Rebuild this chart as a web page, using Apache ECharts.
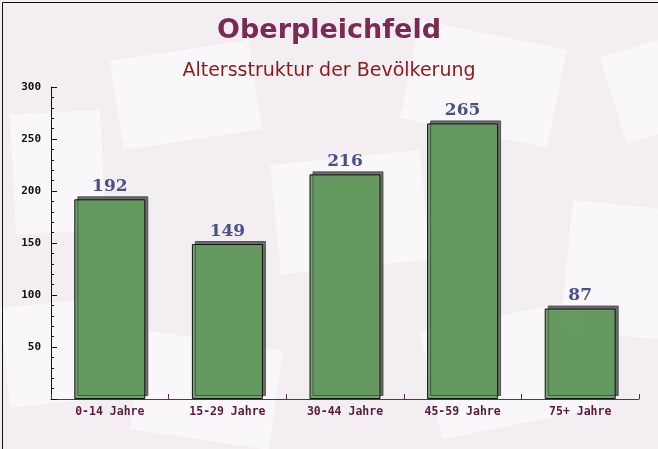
<!DOCTYPE html>
<html><head><meta charset="utf-8">
<script src="https://cdn.jsdelivr.net/npm/echarts@6/dist/echarts.min.js"></script>
<style>html,body{margin:0;padding:0;}#c{width:658px;height:449px;}</style>
</head><body><div id="c"></div>
<script>
const categories = ['0-14 Jahre','15-29 Jahre','30-44 Jahre','45-59 Jahre','75+ Jahre'];
const values = [192,149,216,265,87];
const yTicks = [0,50,100,150,200,250,300];

const chart = echarts.init(document.getElementById('c'), null, {renderer:'canvas'});
const env = (x,y,w,h,r)=>({type:'rect',left:x,top:y,shape:{width:w,height:h},rotation:r,style:{fill:'rgba(255,255,255,0.55)'},z:-10,silent:true});
chart.setOption({
  backgroundColor:'#f2eef1',
  animation:false,
  graphic:[
    env(110,40,140,90,0.15), env(400,20,150,100,-0.2), env(270,150,150,110,0.1),
    env(10,110,90,120,0.05), env(560,200,100,130,-0.1), env(420,300,160,110,0.2),
    env(130,330,140,100,-0.15), env(0,300,80,100,0.1), env(600,40,60,90,0.3),
    {type:'rect',left:0,top:0,shape:{width:657,height:448},style:{fill:'none',stroke:'#111',lineWidth:1},z:100,silent:true}
  ],
  title:[
    {text:'Oberpleichfeld',left:'center',top:12,textStyle:{fontFamily:'DejaVu Sans',fontWeight:'bold',fontSize:27,color:'#7a2a55'}},
    {text:'Altersstruktur der Bevölkerung',left:'center',top:57,textStyle:{fontFamily:'DejaVu Sans',fontWeight:'normal',fontSize:19,color:'#8b1a1a'}}
  ],
  grid:{left:51,right:19,top:87,bottom:50},
  xAxis:{
    type:'category',data:categories,
    axisLine:{lineStyle:{color:'#6b2a48',width:1}},
    axisTick:{show:true,inside:true,length:5,alignWithLabel:false,lineStyle:{color:'#6b2a48'}},
    axisLabel:{fontFamily:'DejaVu Sans Mono',fontWeight:'bold',fontSize:11.5,color:'#5a1a3a',margin:7}
  },
  yAxis:{
    type:'value',min:yTicks[0],max:yTicks[yTicks.length-1],interval:50,
    axisLine:{show:true,lineStyle:{color:'#111',width:1}},
    axisTick:{show:true,inside:true,length:6,lineStyle:{color:'#111'}},
    minorTick:{show:true,splitNumber:5,length:3,lineStyle:{color:'#111'}},
    splitLine:{show:false},
    axisLabel:{fontFamily:'DejaVu Sans Mono',fontWeight:'bold',fontSize:11,color:'#111',margin:10,
      formatter:v=>v===0?'':String(v)}
  },
  series:[{
    type:'bar',data:values,barWidth:71,
    itemStyle:{color:'rgba(100,158,95,0.92)',borderColor:'#111',borderWidth:1,
      shadowColor:'rgba(70,70,70,0.85)',shadowBlur:0,shadowOffsetX:3,shadowOffsetY:-3},
    label:{show:true,position:'top',distance:4,fontFamily:'DejaVu Serif',fontWeight:'bold',fontSize:17,color:'#4b4f8a'}
  }]
});
</script></body></html>
